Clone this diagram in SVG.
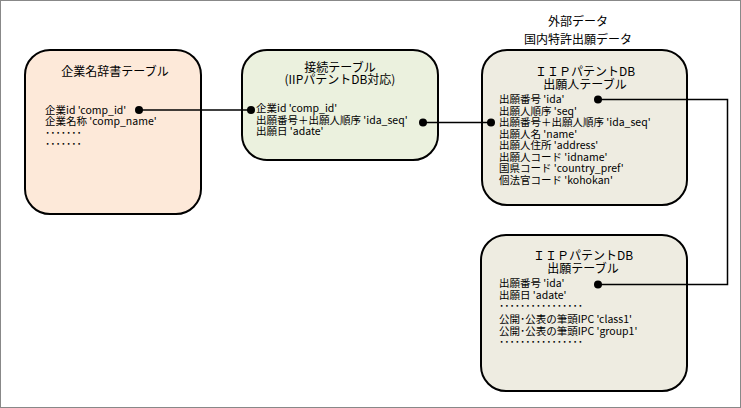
<svg xmlns="http://www.w3.org/2000/svg" width="741" height="408" viewBox="0 0 741 408">
<style>
.box{stroke:#000;stroke-width:2}
.t{font-family:"Noto Sans CJK JP","Noto Sans",sans-serif;fill:#000}
.h{font-size:12px;text-anchor:middle}
.b{font-size:10.5px}
.ln{fill:none;stroke:#000;stroke-width:1.5}
.dot{fill:#000}
</style>
<rect x="0.5" y="0.5" width="740" height="407" fill="#fff" stroke="#888" stroke-width="1"/>
<g id="ext-title" class="t h">
<text x="578" y="26">外部データ</text>
<text x="578" y="44">国内特許出願データ</text>
</g>
<g id="node-company">
<rect class="box" x="25" y="50" width="176" height="164" rx="25" fill="#FDE9D9"/>
<text class="t h" x="115" y="76">企業名辞書テーブル</text>
<g class="t b">
<text x="45" y="113.5">企業id 'comp_id'</text>
<text x="45" y="125">企業名称 'comp_name'</text>
<text x="45" y="136.5">･･･････</text>
<text x="45" y="148">･･･････</text>
</g>
</g>
<g id="node-link">
<rect class="box" x="242" y="50" width="196" height="110" rx="25" fill="#EBF1DE"/>
<text class="t h" x="340" y="72">接続テーブル</text>
<text class="t h" x="340" y="84">(IIPパテントDB対応)</text>
<g class="t b">
<text x="256" y="112">企業id 'comp_id'</text>
<text x="256" y="123.5">出願番号＋出願人順序 'ida_seq'</text>
<text x="256" y="135">出願日 'adate'</text>
</g>
</g>
<g id="node-applicant">
<rect class="box" x="482" y="50" width="205" height="155" rx="25" fill="#EEECE1"/>
<text class="t h" x="585" y="76">ＩＩＰパテントDB</text>
<text class="t h" x="585" y="89">出願人テーブル</text>
<g class="t b">
<text x="499" y="103">出願番号 'ida'</text>
<text x="499" y="114.5">出願人順序 'seq'</text>
<text x="499" y="126">出願番号＋出願人順序 'ida_seq'</text>
<text x="499" y="137.5">出願人名 'name'</text>
<text x="499" y="149">出願人住所 'address'</text>
<text x="499" y="160.5">出願人コード 'idname'</text>
<text x="499" y="172">国県コード 'country_pref'</text>
<text x="499" y="183.5">個法官コード 'kohokan'</text>
</g>
</g>
<g id="node-application">
<rect class="box" x="481" y="235" width="206" height="156" rx="25" fill="#EEECE1"/>
<text class="t h" x="583" y="260">ＩＩＰパテントDB</text>
<text class="t h" x="583" y="273">出願テーブル</text>
<g class="t b">
<text x="499" y="287">出願番号 'ida'</text>
<text x="499" y="298.5">出願日 'adate'</text>
<text x="499" y="310">････････････････</text>
<text x="499" y="322.5">公開･公表の筆頭IPC 'class1'</text>
<text x="499" y="334.5">公開･公表の筆頭IPC 'group1'</text>
<text x="499" y="346">････････････････</text>
</g>
</g>
<g id="connectors">
<path class="ln" d="M139 110 H251"/>
<circle class="dot" cx="139" cy="110" r="4"/>
<circle class="dot" cx="251" cy="110" r="4"/>
<path class="ln" d="M423 122.5 H491"/>
<circle class="dot" cx="423" cy="122.5" r="4"/>
<circle class="dot" cx="491" cy="122.5" r="4"/>
<path class="ln" d="M598 99.5 H727.5 V284.5 H598"/>
<circle class="dot" cx="598" cy="99.5" r="4"/>
<circle class="dot" cx="598" cy="284.5" r="4"/>
</g>
</svg>
